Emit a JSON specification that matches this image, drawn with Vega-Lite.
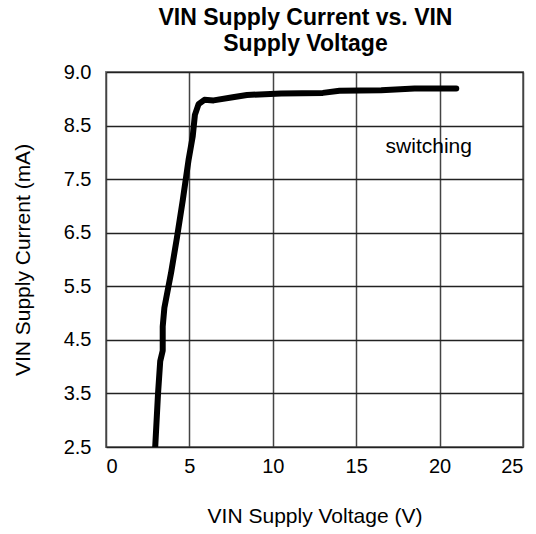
{
  "$schema": "https://vega.github.io/schema/vega-lite/v6.json",
  "width": 417,
  "height": 375,
  "autosize": "none",
  "padding": {"left": 106, "top": 72, "right": 13, "bottom": 87},
  "background": "white",
  "title": {
    "text": ["VIN Supply Current vs. VIN", "Supply Voltage"],
    "font": "Liberation Sans",
    "fontSize": 23,
    "fontWeight": "bold",
    "color": "black",
    "anchor": "middle",
    "offset": 6,
    "dx": -9,
    "lineHeight": 26
  },
  "config": {
    "view": {"stroke": "#808080", "strokeWidth": 2},
    "axis": {
      "labelFont": "Liberation Sans",
      "titleFont": "Liberation Sans",
      "labelFontSize": 20,
      "titleFontSize": 21,
      "titleFontWeight": "normal",
      "labelColor": "black",
      "titleColor": "black",
      "domain": false,
      "ticks": false,
      "gridOpacity": 1
    }
  },
  "layer": [
    {
      "data": {
        "values": [
          {"v": 2.95, "i": 2.5},
          {"v": 3.12, "i": 3.5},
          {"v": 3.25, "i": 4.1},
          {"v": 3.4, "i": 4.3},
          {"v": 3.4, "i": 4.75},
          {"v": 3.5, "i": 5.1},
          {"v": 3.9, "i": 5.75},
          {"v": 4.25, "i": 6.4},
          {"v": 4.6, "i": 7.1},
          {"v": 4.95, "i": 7.86},
          {"v": 5.2, "i": 8.3},
          {"v": 5.33, "i": 8.7},
          {"v": 5.55, "i": 8.9},
          {"v": 5.9, "i": 8.98},
          {"v": 6.45, "i": 8.97},
          {"v": 7.6, "i": 9.03},
          {"v": 8.45, "i": 9.07},
          {"v": 10.5, "i": 9.1},
          {"v": 13.0, "i": 9.11},
          {"v": 14.0, "i": 9.15},
          {"v": 16.5, "i": 9.16},
          {"v": 18.5, "i": 9.19},
          {"v": 21.0, "i": 9.19}
        ]
      },
      "mark": {"type": "line", "color": "black", "strokeWidth": 6, "strokeCap": "round", "strokeJoin": "round", "clip": true},
      "encoding": {
        "x": {
          "field": "v", "type": "quantitative",
          "scale": {"domain": [0, 25], "nice": false},
          "axis": {"values": [0, 5, 10, 15, 20, 25], "title": "VIN Supply Voltage (V)", "titlePadding": 29, "labelPadding": 9, "gridColor": "#444444", "gridWidth": 1.5},
          "sort": null
        },
        "y": {
          "field": "i", "type": "quantitative",
          "scale": {"domain": [2.5, 9.5], "nice": false, "zero": false},
          "axis": {
            "values": [2.5, 3.5, 4.5, 5.5, 6.5, 7.5, 8.5, 9.5],
            "labelExpr": "datum.value == 9.5 ? '9.0' : format(datum.value, '.1f')",
            "title": "VIN Supply Current (mA)", "titlePadding": 30, "labelPadding": 15, "gridColor": "#222222", "gridWidth": 1.5
          }
        },
        "order": {"value": 0}
      }
    },
    {
      "data": {"values": [{"v": 19.35, "i": 8.1, "label": "switching"}]},
      "mark": {"type": "text", "font": "Liberation Sans", "fontSize": 21, "color": "black"},
      "encoding": {
        "x": {"field": "v", "type": "quantitative"},
        "y": {"field": "i", "type": "quantitative"},
        "text": {"field": "label"}
      }
    }
  ]
}
